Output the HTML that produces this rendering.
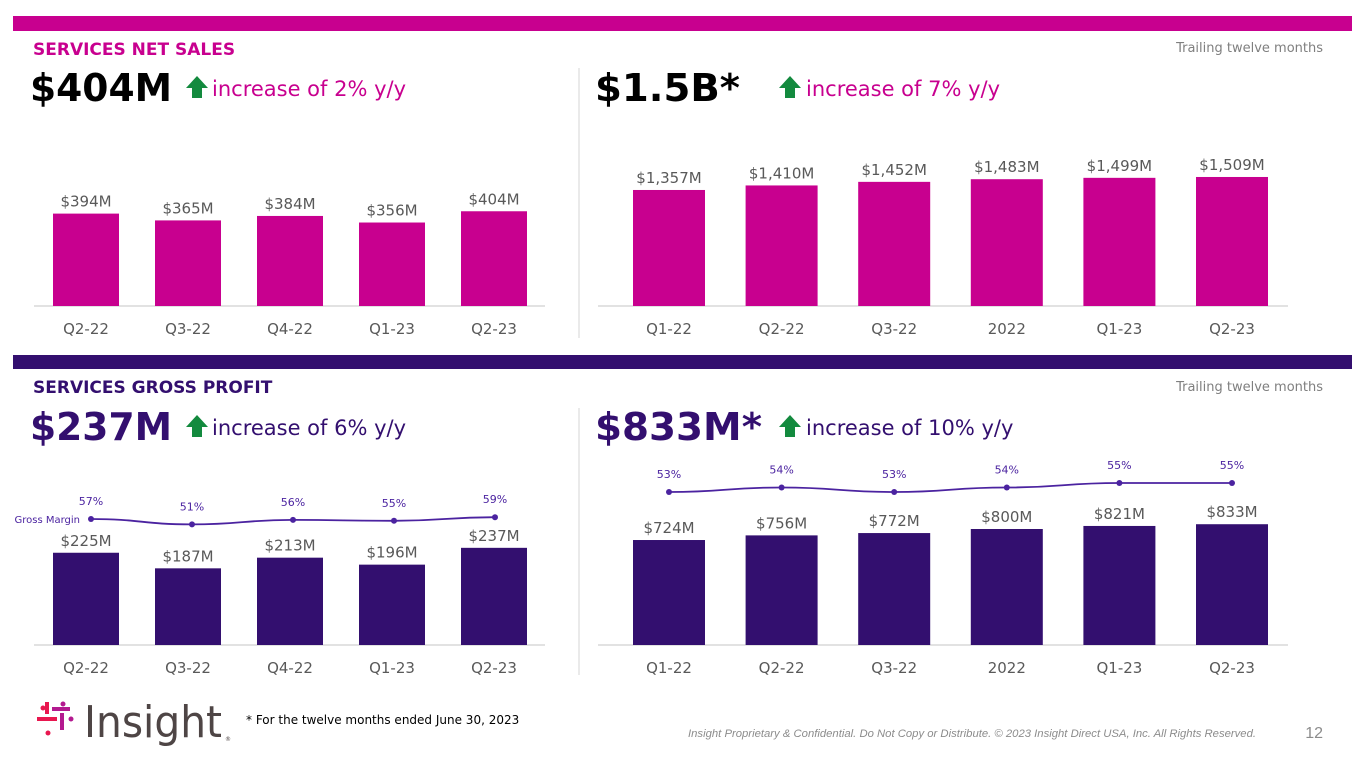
<!DOCTYPE html>
<html><head><meta charset="utf-8">
<style>
html,body{margin:0;padding:0;background:#fff;}
body{width:1365px;height:768px;overflow:hidden;position:relative;font-family:"DejaVu Sans","Liberation Sans",sans-serif;}
svg{position:absolute;left:0;top:0;}
</style></head>
<body>
<svg id="s" width="1365" height="768" viewBox="0 0 1365 768">
  <rect x="13" y="16" width="1339" height="15" fill="#c8008f"/>
  <rect x="13" y="355" width="1339" height="14" fill="#330f6f"/>
  <line x1="579" y1="68" x2="579" y2="338" stroke="#e3e3e3" stroke-width="1.5"/>
  <line x1="579" y1="408" x2="579" y2="675" stroke="#e3e3e3" stroke-width="1.5"/>

  <text x="33" y="55" font-size="17" font-weight="bold" fill="#c8008f">SERVICES NET SALES</text>
  <text x="1323" y="52" font-size="13" fill="#7f7f7f" text-anchor="end">Trailing twelve months</text>
  <text x="30" y="101" font-size="38" font-weight="bold" fill="#000" textLength="142" lengthAdjust="spacingAndGlyphs">$404M</text>
  <text x="212" y="96" font-size="21" fill="#c8008f">increase of 2% y/y</text>
  <text x="595" y="101" font-size="38" font-weight="bold" fill="#000" textLength="145" lengthAdjust="spacingAndGlyphs">$1.5B*</text>
  <text x="806" y="96" font-size="21" fill="#c8008f">increase of 7% y/y</text>

  <text x="33" y="393" font-size="17" font-weight="bold" fill="#330f6f">SERVICES GROSS PROFIT</text>
  <text x="1323" y="391" font-size="13" fill="#7f7f7f" text-anchor="end">Trailing twelve months</text>
  <text x="30" y="440" font-size="38" font-weight="bold" fill="#330f6f" textLength="142" lengthAdjust="spacingAndGlyphs">$237M</text>
  <text x="212" y="435" font-size="21" fill="#330f6f">increase of 6% y/y</text>
  <text x="595" y="440" font-size="38" font-weight="bold" fill="#330f6f" textLength="167" lengthAdjust="spacingAndGlyphs">$833M*</text>
  <text x="806" y="435" font-size="21" fill="#330f6f">increase of 10% y/y</text>

  <g id="arrows"></g>
  <g id="charts"></g>

  <g>
    <circle cx="43" cy="708" r="2.5" fill="#e8174f"/><circle cx="63" cy="704" r="2.5" fill="#b3198f"/>
    <rect x="45" y="702" width="4" height="12" fill="#e8174f"/><rect x="52" y="707" width="18" height="4" fill="#b3198f"/>
    <rect x="37" y="717" width="20" height="4" fill="#e8174f"/><rect x="60" y="713" width="4" height="17" fill="#b3198f"/>
    <circle cx="48" cy="733" r="2.5" fill="#e8174f"/><circle cx="71" cy="719" r="2.5" fill="#b3198f"/>
    <text x="84" y="737" font-family="'DejaVu Sans',sans-serif" font-size="44" fill="#4e4545" textLength="138" lengthAdjust="spacingAndGlyphs">Insight</text>
    <text x="225" y="741" font-size="6" fill="#4e4545">®</text>
  </g>
  <text x="246" y="724" font-size="12" fill="#000">* For the twelve months ended June 30, 2023</text>
  <text x="1256" y="737" font-family="'Liberation Sans',sans-serif" font-size="11.3" font-style="italic" fill="#8c8c8c" text-anchor="end">Insight Proprietary &amp; Confidential. Do Not Copy or Distribute. © 2023 Insight Direct USA, Inc. All Rights Reserved.</text>
  <text x="1323" y="738" font-family="'Liberation Sans',sans-serif" font-size="16" fill="#8c8c8c" text-anchor="end">12</text>
</svg>
<script>
const qCats = ["Q2-22","Q3-22","Q4-22","Q1-23","Q2-23"];
const qSales = [394,365,384,356,404];
const ttmCats = ["Q1-22","Q2-22","Q3-22","2022","Q1-23","Q2-23"];
const ttmSales = [1357,1410,1452,1483,1499,1509];
const qGP = [225,187,213,196,237];
const qMargin = [57,51,56,55,59];
const ttmGP = [724,756,772,800,821,833];
const ttmMargin = [53,54,53,54,55,55];

const NS="http://www.w3.org/2000/svg";
const charts=document.getElementById('charts');
function mk(tag,attrs,parent){const e=document.createElementNS(NS,tag);for(const k in attrs)e.setAttribute(k,attrs[k]);(parent||charts).appendChild(e);return e;}
function fmt(v){return "$"+v.toLocaleString("en-US")+"M";}

function barChart(name,cats,vals,x0,step,bw,base,scale,color,axisX1,axisX2){
  const g=mk('g',{});
  
  
  const ax=mk('line',{x1:axisX1,x2:axisX2,y1:base,y2:base,stroke:'#d9d9d9','stroke-width':1.5},g);
  
  
  cats.forEach((c,i)=>{
    const cx=x0+i*step, h=vals[i]*scale;
    const r=mk('rect',{x:cx-bw/2,y:base-h,width:bw,height:h,fill:color},g);
    
    
    const t=mk('text',{x:cx,y:base-h-7,'font-size':15,fill:'#595959','text-anchor':'middle'},g);
    t.textContent=fmt(vals[i]);
    
    
    const l=mk('text',{x:cx,y:base+28,'font-size':15,fill:'#595959','text-anchor':'middle'},g);
    l.textContent=c;
    
    
  });
}
function lineChart(name,vals,x0,step,yRef,mRef,pxPer){
  const g=mk('g',{});
  
  
  const pts=vals.map((m,i)=>[x0+i*step,yRef-(m-mRef)*pxPer]);
  let d="M"+pts[0][0]+","+pts[0][1];
  for(let i=1;i<pts.length;i++){const [ax,ay]=pts[i-1],[bx,by]=pts[i],mx=(ax+bx)/2;d+=` C${mx},${ay} ${mx},${by} ${bx},${by}`;}
  const p=mk('path',{d:d,fill:'none',stroke:'#4b23a0','stroke-width':1.8},g);
  
  
  pts.forEach((pt,i)=>{
    const c=mk('circle',{cx:pt[0],cy:pt[1],r:3,fill:'#4b23a0'},g);
    
    
    const t=mk('text',{x:pt[0],y:pt[1]-14,'font-size':11,fill:'#4b23a0','text-anchor':'middle'},g);
    t.textContent=vals[i]+"%";
    
    
  });
}
barChart('quarterly-sales-chart',qCats,qSales,86,102,66,306,0.2345,'#c8008f',34,545);
barChart('ttm-sales-chart',ttmCats,ttmSales,669,112.6,72,306,0.0855,'#c8008f',598,1288);
barChart('quarterly-gp-chart',qCats,qGP,86,102,66,645,0.41,'#330f6f',34,545);
barChart('ttm-gp-chart',ttmCats,ttmGP,669,112.6,72,645,0.145,'#330f6f',598,1288);
lineChart('quarterly-margin-line',qMargin,91,101,519,57,0.9);
lineChart('ttm-margin-line',ttmMargin,669,112.6,492,53,4.5);
const gm=mk('text',{x:80,y:523,'font-size':10,fill:'#4b23a0','text-anchor':'end'});
gm.textContent="Gross Margin";



const arrows=document.getElementById('arrows');
[[197,79],[790,79],[197,418],[790,418]].forEach(([x,y])=>{
  const a=mk('path',{d:`M${x-11},${y+9} L${x},${y-3} L${x+11},${y+9} L${x+5},${y+9} L${x+5},${y+19} L${x-5},${y+19} L${x-5},${y+9} Z`,fill:'#138a3e'},arrows);
  
  
});
</script>
</body></html>
